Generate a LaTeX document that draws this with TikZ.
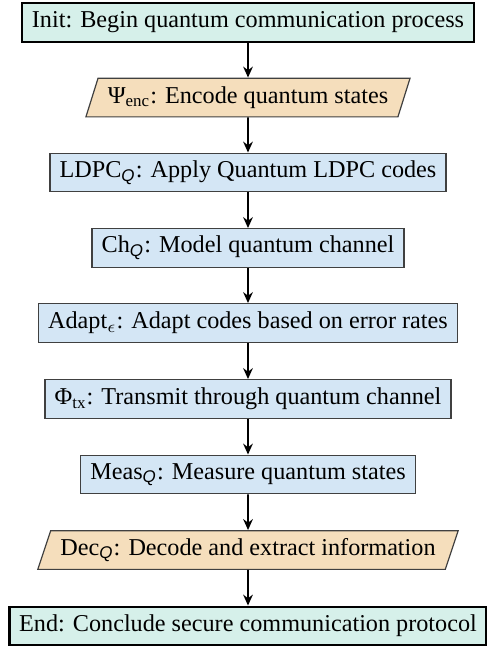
\documentclass[tikz,border=0pt]{standalone}
\usepackage{fontspec}
\setmainfont{Liberation Serif}
\newfontfamily\subsansfont{Liberation Sans}
\newcommand{\subQ}{\textsubscript{\subsansfont\itshape Q}}
\usetikzlibrary{shapes.geometric,arrows.meta,shadows}
\begin{document}
\begin{tikzpicture}[x=0.4132pt,y=-0.4132pt,
  font=\fontsize{10}{12}\selectfont,
  termbox/.style={rectangle,draw=black,line width=0.9pt,fill=termfill,minimum height=16pt,inner xsep=4pt,inner ysep=2pt,
    drop shadow={shadow xshift=0.5pt,shadow yshift=-0.5pt,fill=black!35}},
  procbox/.style={rectangle,draw=black!75,line width=0.5pt,fill=procfill,minimum height=16pt,inner xsep=4pt,inner ysep=2pt},
  iobox/.style={trapezium,trapezium left angle=69,trapezium right angle=111,trapezium stretches=true,draw=black!75,line width=0.5pt,fill=iofill,minimum height=16pt,inner xsep=4pt,inner ysep=2pt},
  flow/.style={-{Stealth[length=4.5pt,width=4pt]},line width=0.75pt}]
\definecolor{termfill}{RGB}{214,240,234}
\definecolor{procfill}{RGB}{212,230,245}
\definecolor{iofill}{RGB}{245,222,188}
\useasboundingbox (0,0) rectangle (487,646);
\node[termbox] (init) at (248,22.5) {Init: Begin quantum communication process};
\node[iobox] (enc) at (248,97.5) {Ψ\textsubscript{enc}: Encode quantum states};
\node[procbox] (ldpc) at (248,172.5) {LDPC\subQ: Apply Quantum LDPC codes};
\node[procbox] (ch) at (248,248) {Ch\subQ: Model quantum channel};
\node[procbox] (adapt) at (248,323) {Adapt$_\epsilon$: Adapt codes based on error rates};
\node[procbox] (tx) at (248,399) {Φ\textsubscript{tx}: Transmit through quantum channel};
\node[procbox] (meas) at (248,474.5) {Meas\subQ: Measure quantum states};
\node[iobox] (dec) at (248,550) {Dec\subQ: Decode and extract information};
\node[termbox] (end) at (248,626) {End: Conclude secure communication protocol};
\draw[flow] (init) -- (enc);
\draw[flow] (enc) -- (ldpc);
\draw[flow] (ldpc) -- (ch);
\draw[flow] (ch) -- (adapt);
\draw[flow] (adapt) -- (tx);
\draw[flow] (tx) -- (meas);
\draw[flow] (meas) -- (dec);
\draw[flow] (dec) -- (end);
\end{tikzpicture}
\end{document}
